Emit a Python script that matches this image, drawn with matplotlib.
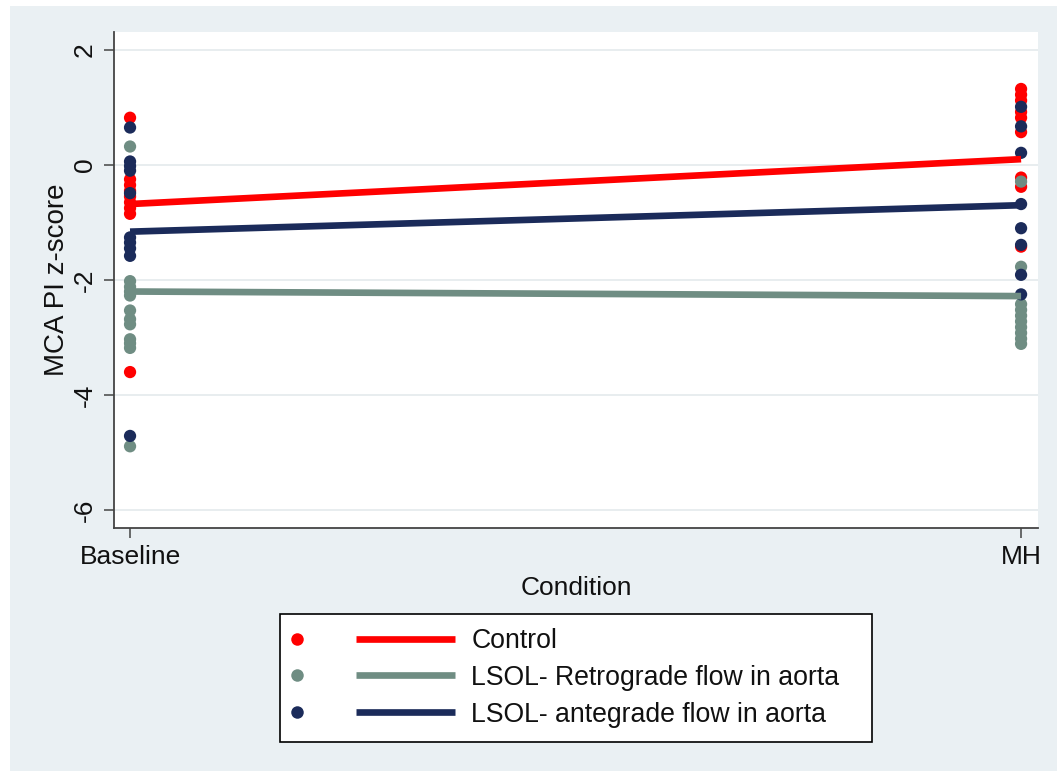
import numpy as np
import matplotlib
matplotlib.use("Agg")
import matplotlib.pyplot as plt
from matplotlib.lines import Line2D
from matplotlib.patches import Rectangle
from matplotlib.legend_handler import HandlerBase

plt.rcParams['font.family'] = ['Liberation Sans', 'DejaVu Sans']

# ---------------- data ----------------
conditions = ["Baseline", "MH"]
series_names = ["Control", "LSOL- Retrograde flow in aorta", "LSOL- antegrade flow in aorta"]

control_baseline = [0.82, -0.25, -0.35, -0.45, -0.55, -0.65, -0.75, -0.85, -3.60]
control_mh = [1.32, 1.22, 1.12, 0.92, 0.82, 0.57, -0.22, -0.38, -1.42]

retro_baseline = [0.32, -2.02, -2.12, -2.20, -2.27, -2.53, -2.68, -2.77, -3.03, -3.10, -3.18, -4.89]
retro_mh = [-0.29, -1.77, -2.42, -2.52, -2.62, -2.72, -2.82, -2.92, -3.02, -3.11]

ante_baseline = [0.65, 0.06, -0.02, -0.10, -0.49, -1.26, -1.35, -1.45, -1.58, -4.71]
ante_mh = [1.01, 0.67, 0.21, -0.68, -1.10, -1.39, -1.91, -2.25]

# fitted lines (value at Baseline, value at MH)
fit_control = [-0.68, 0.10]
fit_retro = [-2.20, -2.28]
fit_ante = [-1.16, -0.70]

yticks = [-6, -4, -2, 0, 2]

colors = ["#ff0000", "#6f8d83", "#1b2b5a"]

# ---------------- figure ----------------
W, H = 1057, 771
fig = plt.figure(figsize=(W / 100, H / 100), dpi=100)
fig.patch.set_facecolor("white")
fig.patches.append(Rectangle((10 / W, 0), 1 - 10 / W, (H - 6) / H,
                             transform=fig.transFigure, facecolor="#eaf0f3",
                             edgecolor="none", zorder=-5))

ax = fig.add_axes([114 / W, 1 - 528 / H, (1038 - 114) / W, (528 - 32) / H])
ax.set_zorder(1)
ax.set_facecolor("white")

xpos = np.arange(len(conditions))
groups = [
    (control_baseline, control_mh, fit_control),
    (retro_baseline, retro_mh, fit_retro),
    (ante_baseline, ante_mh, fit_ante),
]

ms = 78
for (b, m, _), c in zip(groups, colors):
    ax.scatter(np.full(len(b), xpos[0]), b, s=ms, color=c, edgecolors="none", zorder=3)
    ax.scatter(np.full(len(m), xpos[1]), m, s=ms, color=c, edgecolors="none", zorder=3)
for (_, _, f), c in zip(groups, colors):
    ax.plot(xpos, f, color=c, lw=4.8, solid_capstyle="butt", zorder=4)

ax.set_xlim(-0.018, 1.019)
ax.set_ylim(-6.31, 2.31)
ax.set_xticks(xpos)
ax.set_xticklabels(conditions)
ax.set_yticks(yticks)
ax.set_yticklabels([str(v) for v in yticks])

ax.grid(axis="y", color="#e6ecee", lw=1.3, zorder=0)
ax.set_axisbelow(True)
for s in ["top", "right"]:
    ax.spines[s].set_visible(False)
for s in ["left", "bottom"]:
    ax.spines[s].set_color("#444444")
    ax.spines[s].set_linewidth(1.3)

ax.tick_params(axis="both", colors="#444444", length=7.5, width=1.1,
               labelsize=19, labelcolor="#111111")
ax.tick_params(axis="y", labelrotation=90, pad=5)
ax.tick_params(axis="x", pad=5)
for lab in ax.get_yticklabels():
    lab.set_va("center")

ax.set_xlabel("Condition", fontsize=19, color="#111111", labelpad=5)
ax.set_ylabel("MCA PI z-score", fontsize=20, color="#111111", labelpad=2)


# ---------------- legend ----------------
class DotLineHandler(HandlerBase):
    def create_artists(self, legend, orig_handle, xdescent, ydescent,
                       width, height, fontsize, trans):
        dot_h, line_h = orig_handle
        y = (height - ydescent) / 2
        x0 = -xdescent
        dot = Line2D([x0 + 0.019 * width], [y], marker="o", linestyle="none",
                     markersize=9, color=dot_h.get_color(), markeredgewidth=0)
        line = Line2D([x0 + 0.3875 * width, x0 + width], [y, y],
                      color=line_h.get_color(), lw=4.8, solid_capstyle="butt")
        dot.set_transform(trans)
        line.set_transform(trans)
        return [dot, line]


handles = [(Line2D([], [], color=c), Line2D([], [], color=c)) for c in colors]
leg = fig.legend(handles, series_names, handler_map={tuple: DotLineHandler()},
                 loc="upper left",
                 bbox_to_anchor=(280 / W, 1 - 614 / H, (872 - 280) / W, 0),
                 bbox_transform=fig.transFigure, mode="expand",
                 borderaxespad=0, borderpad=0.52, fontsize=19.2,
                 handlelength=6.06, handletextpad=0.6, labelspacing=0.41,
                 fancybox=False, framealpha=1, edgecolor="black",
                 facecolor="white")
leg.get_frame().set_linewidth(1.2)
for t in leg.get_texts():
    t.set_color("#111111")

fig.savefig("out.png", dpi=100, facecolor=fig.get_facecolor())
